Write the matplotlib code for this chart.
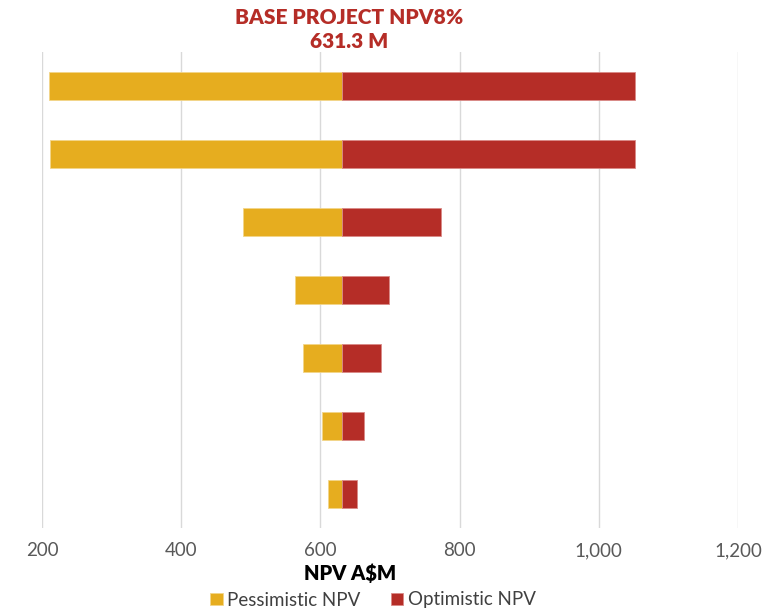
import matplotlib
matplotlib.use("Agg")
import matplotlib.pyplot as plt

plt.rcParams['font.family'] = ['Lato', 'DejaVu Sans']

base = 631.3
categories = ["1", "2", "3", "4", "5", "6", "7"]
pessimistic = [210, 211, 489, 564, 575, 603, 611]
optimistic = [1052, 1052, 773, 699, 687, 663, 653]
xticks = [200, 400, 600, 800, 1000, 1200]
xticklabels = ["200", "400", "600", "800", "1,000", "1,200"]

gold = "#E6AD1F"
red = "#B52D27"

fig = plt.figure(figsize=(7.67, 6.11), dpi=100)
ax = fig.add_axes([42/767, (611-528)/611, (738-42)/767, (528-52)/611])

y = list(range(len(categories)))
ax.barh(y, [base - p for p in pessimistic], left=pessimistic, height=0.4,
        color=gold, edgecolor="#F2D58A", linewidth=0.6, label="Pessimistic NPV", zorder=3)
ax.barh(y, [o - base for o in optimistic], left=base, height=0.4,
        color=red, edgecolor="#D98A87", linewidth=0.6, label="Optimistic NPV", zorder=3)

ax.set_xlim(200, 1200)
ax.set_ylim(len(categories) - 0.5, -0.5)
ax.set_xticks(xticks)
ax.set_xticklabels(xticklabels, fontsize=13.5, color="#595959")
ax.set_yticks([])
ax.tick_params(axis="x", length=0, pad=10)
ax.grid(axis="x", color="#D9D9D9", linewidth=1, zorder=0)
for s in ax.spines.values():
    s.set_visible(False)

fig.text(349/767, 1 - 18/611, "BASE PROJECT NPV8%", ha="center", va="center",
         fontsize=15, fontweight="heavy", color=red)
fig.text(349/767, 1 - 42/611, "631.3 M", ha="center", va="center",
         fontsize=15, fontweight="heavy", color=red)
fig.text(350/767, 1 - 573/611, "NPV A$M", ha="center", va="center",
         fontsize=14.5, fontweight="heavy", color="black")

h, l = ax.get_legend_handles_labels()
fig.legend(h, l, loc="center", bbox_to_anchor=(373/767, 1 - 600/611), ncol=2,
           frameon=False, fontsize=13.5, handlelength=0.65, handleheight=0.65,
           handletextpad=0.25, columnspacing=1.6, labelcolor="#404040")

fig.savefig("out.png", dpi=100)
